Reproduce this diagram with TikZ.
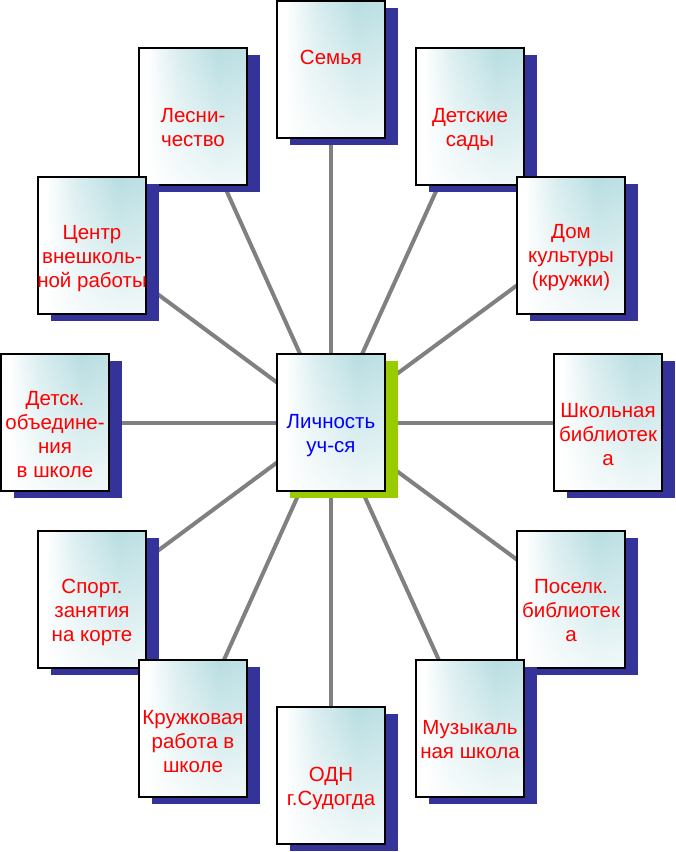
\documentclass[tikz,border=0pt]{standalone}
\usepackage{fontspec}
\setmainfont{Liberation Sans}
\usetikzlibrary{backgrounds,fadings}
\definecolor{sblue}{RGB}{51,51,153}
\definecolor{sgreen}{RGB}{153,204,0}
\definecolor{tint}{RGB}{184,222,226}
\definecolor{conngray}{RGB}{128,128,128}
\definecolor{txtred}{RGB}{255,0,0}
\definecolor{txtblue}{RGB}{0,0,255}
\pgfdeclarehorizontalshading{cardshade}{100bp}{color(0bp)=(white); color(25bp)=(white); color(29bp)=(white); color(42bp)=(tint!50); color(62bp)=(tint); color(75bp)=(tint!90); color(100bp)=(tint!90)}
\tikzset{
  cardbox/.style={rectangle, minimum width=108pt, minimum height=137pt,
    inner sep=0pt, outer sep=0pt, shading=cardshade,
    draw=black, line width=1.3pt,
    path picture={\fill[white, path fading=north, fill opacity=0.8]
      (path picture bounding box.south west) rectangle (path picture bounding box.north east);}},
  cardtext/.style={font=\fontsize{20.5}{24}\selectfont, align=center, inner sep=0pt},
  conn/.style={draw=conngray, line width=4pt},
}
\newcommand\card[7]{%
  \fill[#7] ({#2+13},{#3+7}) rectangle ({#2+121},{#3+144});
  \node[cardbox] (#1) at ({#2+54},{#3+68.5}) {};
  \node[cardtext, text=#6] (#1-t) at ({#2+54},#4) {#5};
}
\begin{document}
\begin{tikzpicture}[x=1pt,y=-1pt]
\useasboundingbox (0,0) rectangle (676,852);
\card{semya}{277}{1}{57}{Семья}{txtred}{sblue}
\card{lesn}{139}{48}{128}{Лесни-\\чество}{txtred}{sblue}
\card{det}{416}{48}{129.5}{Детские\\сады}{txtred}{sblue}
\card{centr}{38}{177}{259}{Центр\\внешколь-\\ной работы}{txtred}{sblue}
\card{dom}{517}{177}{258}{Дом\\культуры\\(кружки)}{txtred}{sblue}
\card{detsk}{1}{354}{435}{Детск.\\объедине-\\ния\\в школе}{txtred}{sblue}
\card{shkol}{554}{354}{435}{Школьная\\библиотек\\а}{txtred}{sblue}
\card{sport}{38}{531}{612}{Спорт.\\занятия\\на корте}{txtred}{sblue}
\card{posel}{517}{531}{611}{Поселк.\\библиотек\\а}{txtred}{sblue}
\card{kruzh}{139}{660}{742}{Кружковая\\работа в\\школе}{txtred}{sblue}
\card{muz}{416}{660}{740}{Музыкаль\\ная школа}{txtred}{sblue}
\card{odn}{277}{707}{788}{ОДН\\г.Судогда}{txtred}{sblue}
\card{cen}{277}{354}{435.5}{Личность\\уч-ся}{txtblue}{sgreen}
\begin{pgfonlayer}{background}
  \fill[white] (0,0) rectangle (676,852);
  \foreach \n in {semya,lesn,det,centr,dom,detsk,shkol,sport,posel,kruzh,muz,odn}
    \draw[conn] (cen.center) -- (\n.center);
\end{pgfonlayer}
\end{tikzpicture}
\end{document}
